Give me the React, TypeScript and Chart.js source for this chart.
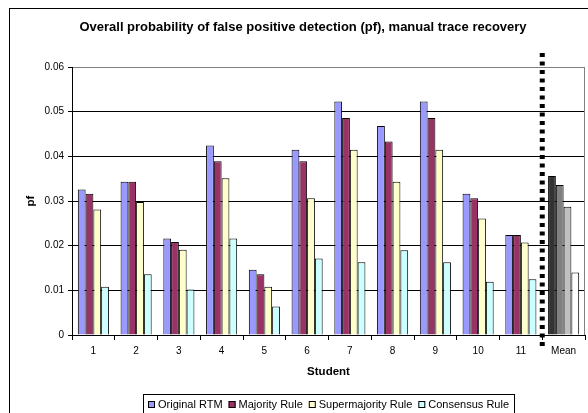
import React, { useEffect, useRef } from "react";
import { Chart, registerables } from "chart.js";

Chart.register(...registerables);

const TITLE = "Overall probability of false positive detection (pf), manual trace recovery";
const X_TITLE = "Student";
const Y_TITLE = "pf";

const students = ["1", "2", "3", "4", "5", "6", "7", "8", "9", "10", "11", "Mean"];
const seriesNames = ["Original RTM", "Majority Rule", "Supermajority Rule", "Consensus Rule"];

const originalRTM = [0.0326, 0.0343, 0.0216, 0.0424, 0.0146, 0.0415, 0.0523, 0.0468, 0.0523, 0.0316, 0.0224, 0.0356];
const majorityRule = [0.0316, 0.0343, 0.0208, 0.0389, 0.0136, 0.0389, 0.0486, 0.0433, 0.0486, 0.0306, 0.0224, 0.0336];
const supermajorityRule = [0.0281, 0.0298, 0.0191, 0.0351, 0.0108, 0.0306, 0.0415, 0.0343, 0.0415, 0.0261, 0.0207, 0.0287];
const consensusRule = [0.0108, 0.0136, 0.0102, 0.0216, 0.0064, 0.0171, 0.0163, 0.0190, 0.0163, 0.0119, 0.0125, 0.0140];

const yTicks = [0, 0.01, 0.02, 0.03, 0.04, 0.05, 0.06];
const yTickLabels = ["0", "0.01", "0.02", "0.03", "0.04", "0.05", "0.06"];

const seriesColors = ["#9999FF", "#993366", "#FFFFCC", "#CCFFFF"];
const meanColors = ["#333333", "#808080", "#C0C0C0", "#FFFFFF"];

const FONT = '"Liberation Sans", Arial, sans-serif';

const decorPlugin = {
  id: "decor",
  beforeDraw(chart: any) {
    const ctx = chart.ctx;
    ctx.save();
    ctx.fillStyle = "#FFFFFF";
    ctx.fillRect(0, 0, chart.width, chart.height);
    ctx.restore();
  },
  afterDraw(chart: any) {
    const ctx = chart.ctx;
    const ca = chart.chartArea;
    const xs = chart.scales.x;
    ctx.save();
    // outer chart border
    ctx.strokeStyle = "#000000";
    ctx.lineWidth = 1;
    ctx.strokeRect(9.5, 8.5, 591, 420);
    // plot area right border
    ctx.strokeStyle = "#808080";
    ctx.beginPath();
    const rx = Math.round(ca.right) - 0.5;
    ctx.moveTo(rx, ca.top);
    ctx.lineTo(rx, ca.bottom);
    ctx.stroke();
    // title
    ctx.fillStyle = "#000000";
    ctx.font = "bold 13px " + FONT;
    ctx.textAlign = "center";
    ctx.textBaseline = "middle";
    ctx.fillText(TITLE, 303, 27);
    // dotted separator between 11 and Mean
    const px = (xs.getPixelForValue(10) + xs.getPixelForValue(11)) / 2;
    ctx.strokeStyle = "#000000";
    ctx.lineWidth = 5;
    ctx.setLineDash([4, 4.5]);
    ctx.beginPath();
    ctx.moveTo(px, 53);
    ctx.lineTo(px, 347);
    ctx.stroke();
    ctx.setLineDash([]);
    // legend
    ctx.font = "11px " + FONT;
    const sw = 7;
    const gapSwText = 3;
    const gapItems = 6;
    const pad = 5;
    const widths = seriesNames.map((n) => ctx.measureText(n).width);
    let total = pad * 2;
    widths.forEach((w, i) => {
      total += sw + gapSwText + w + (i < widths.length - 1 ? gapItems : 0);
    });
    const cx = (ca.left + ca.right) / 2;
    const left = Math.round(cx - total / 2);
    const top = 394;
    const cy = 404;
    ctx.strokeStyle = "#000000";
    ctx.lineWidth = 1;
    ctx.strokeRect(left + 0.5, top + 0.5, Math.round(total), 22);
    let x = left + pad;
    ctx.textAlign = "left";
    ctx.textBaseline = "middle";
    seriesNames.forEach((n, i) => {
      ctx.fillStyle = seriesColors[i];
      ctx.fillRect(x, cy - 3, sw, sw);
      ctx.strokeStyle = "#000000";
      ctx.strokeRect(x + 0.5, cy - 3 + 0.5, sw - 1, sw - 1);
      x += sw + gapSwText;
      ctx.fillStyle = "#000000";
      ctx.fillText(n, x, cy + 0.5);
      x += widths[i] + gapItems;
    });
    ctx.restore();
  },
};

export default function App() {
  const ref = useRef<HTMLCanvasElement | null>(null);

  useEffect(() => {
    if (!ref.current) return;
    const series = [originalRTM, majorityRule, supermajorityRule, consensusRule];
    const chart = new Chart(ref.current, {
      type: "bar",
      data: {
        labels: students,
        datasets: series.map((d, i) => ({
          label: seriesNames[i],
          data: d,
          backgroundColor: students.map((s, j) => (j === students.length - 1 ? meanColors[i] : seriesColors[i])),
          borderColor: "#000000",
          borderWidth: 1,
          barPercentage: 1,
          categoryPercentage: 4 / 5.5,
        })),
      },
      options: {
        responsive: false,
        animation: false,
        layout: { padding: { left: 20, top: 67, right: 3, bottom: 30 } },
        plugins: {
          legend: { display: false },
          title: { display: false },
          tooltip: { enabled: false },
        },
        scales: {
          x: {
            grid: {
              display: true,
              drawOnChartArea: false,
              offset: true,
              tickLength: 5,
              color: "#000000",
            },
            border: { color: "#000000" },
            ticks: {
              color: "#000000",
              font: { family: FONT, size: 10 },
              padding: 5,
              maxRotation: 0,
              autoSkip: false,
            },
            title: {
              display: true,
              text: X_TITLE,
              color: "#000000",
              font: { family: FONT, size: 11.5, weight: "bold" },
              padding: { top: 4, bottom: 4 },
            },
            afterFit: (scale: any) => {
              scale.height = 48;
            },
          },
          y: {
            min: 0,
            max: 0.06,
            afterBuildTicks: (scale: any) => {
              scale.ticks = yTicks.map((v) => ({ value: v }));
            },
            grid: {
              color: (c: any) => (c.tick && c.tick.value === 0.06 ? "#808080" : "#000000"),
              tickColor: "#000000",
              tickLength: 4,
            },
            border: { color: "#000000" },
            ticks: {
              color: "#000000",
              font: { family: FONT, size: 10 },
              padding: 4,
              callback: (_v: any, idx: number) => yTickLabels[idx],
            },
            title: {
              display: true,
              text: Y_TITLE,
              color: "#000000",
              font: { family: FONT, size: 11.5, weight: "bold" },
              padding: { top: 4, bottom: 4 },
            },
            afterFit: (scale: any) => {
              scale.width = 52;
            },
          },
        },
      },
      plugins: [decorPlugin],
    });
    return () => chart.destroy();
  }, []);

  return (
    <div style={{ position: "absolute", left: 0, top: 0, width: 588, height: 413, overflow: "hidden" }}>
      <canvas ref={ref} width={588} height={413} style={{ display: "block" }} />
    </div>
  );
}
